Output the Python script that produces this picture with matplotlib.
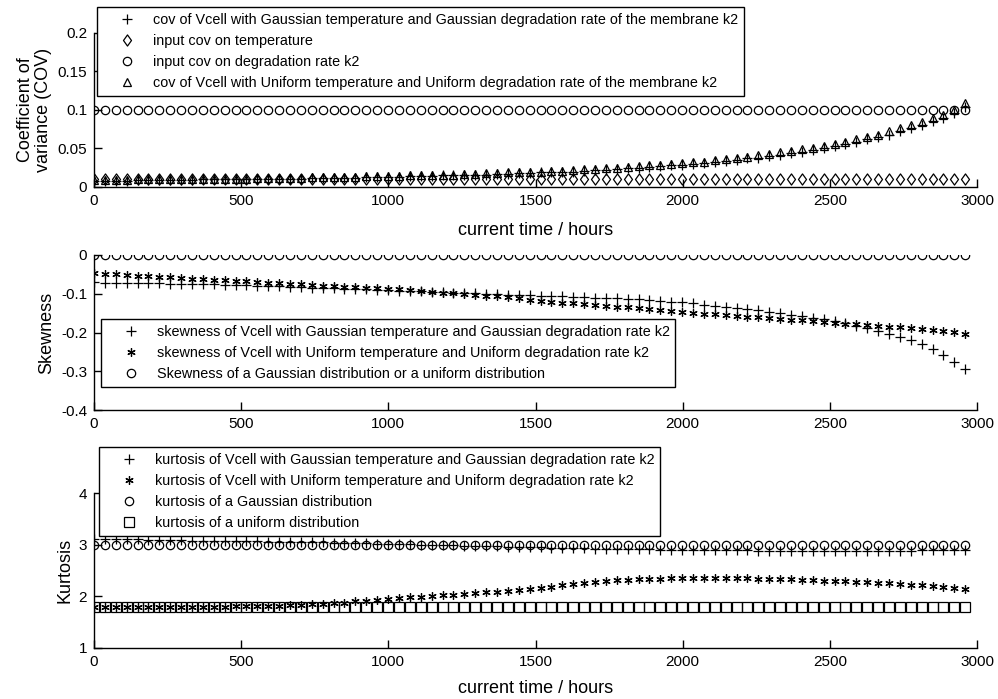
import numpy as np
import matplotlib
matplotlib.use("Agg")
import matplotlib.pyplot as plt
from matplotlib.path import Path

plt.rcParams['font.family'] = ['Liberation Sans', 'DejaVu Sans']
plt.rcParams['axes.unicode_minus'] = False

# time axis: one sample every 37 hours
hours = np.arange(81) * 37

# --- coefficient of variance ---
cov_gauss = [0.008, 0.008, 0.008, 0.008, 0.009, 0.009, 0.009, 0.009, 0.009, 0.009,
             0.010, 0.010, 0.010, 0.010, 0.010, 0.011, 0.011, 0.011, 0.011, 0.011,
             0.012, 0.012, 0.012, 0.012, 0.012, 0.013, 0.013, 0.013, 0.013, 0.014,
             0.014, 0.014, 0.015, 0.015, 0.015, 0.016, 0.016, 0.017, 0.017, 0.018,
             0.018, 0.019, 0.019, 0.020, 0.020, 0.021, 0.022, 0.022, 0.023, 0.024,
             0.025, 0.026, 0.027, 0.028, 0.029, 0.030, 0.031, 0.032, 0.034, 0.035,
             0.037, 0.038, 0.040, 0.042, 0.044, 0.046, 0.048, 0.050, 0.053, 0.056,
             0.059, 0.062, 0.065, 0.068, 0.072, 0.076, 0.080, 0.085, 0.090, 0.096,
             0.104]
cov_unif = [0.009, 0.009, 0.009, 0.009, 0.010, 0.010, 0.010, 0.010, 0.010, 0.010,
            0.011, 0.011, 0.011, 0.011, 0.011, 0.012, 0.012, 0.012, 0.012, 0.012,
            0.013, 0.013, 0.013, 0.013, 0.013, 0.014, 0.014, 0.014, 0.014, 0.015,
            0.015, 0.016, 0.016, 0.016, 0.017, 0.017, 0.018, 0.018, 0.019, 0.019,
            0.020, 0.020, 0.021, 0.021, 0.022, 0.023, 0.023, 0.024, 0.025, 0.026,
            0.027, 0.028, 0.029, 0.030, 0.031, 0.032, 0.033, 0.035, 0.036, 0.038,
            0.039, 0.041, 0.043, 0.045, 0.047, 0.049, 0.051, 0.053, 0.056, 0.059,
            0.062, 0.065, 0.068, 0.072, 0.076, 0.080, 0.084, 0.089, 0.094, 0.100,
            0.109]
cov_temp_in = [0.01] * 81
cov_k2_in = [0.1] * 81

# --- skewness ---
skew_gauss = [-0.070, -0.071, -0.071, -0.072, -0.072, -0.073, -0.073, -0.074, -0.074, -0.075,
              -0.075, -0.076, -0.077, -0.077, -0.078, -0.079, -0.080, -0.081, -0.082, -0.083,
              -0.084, -0.085, -0.086, -0.087, -0.088, -0.089, -0.090, -0.091, -0.092, -0.093,
              -0.094, -0.095, -0.096, -0.097, -0.098, -0.099, -0.100, -0.101, -0.102, -0.103,
              -0.104, -0.105, -0.106, -0.107, -0.108, -0.109, -0.110, -0.111, -0.112, -0.113,
              -0.114, -0.116, -0.118, -0.120, -0.122, -0.125, -0.128, -0.131, -0.134, -0.137,
              -0.140, -0.143, -0.146, -0.150, -0.154, -0.158, -0.162, -0.166, -0.171, -0.176,
              -0.182, -0.188, -0.195, -0.203, -0.211, -0.220, -0.230, -0.243, -0.258, -0.275,
              -0.294]
skew_unif = [-0.047, -0.049, -0.050, -0.052, -0.053, -0.055, -0.056, -0.058, -0.059, -0.061,
             -0.062, -0.064, -0.065, -0.067, -0.068, -0.070, -0.071, -0.073, -0.074, -0.076,
             -0.077, -0.079, -0.080, -0.082, -0.083, -0.085, -0.086, -0.088, -0.089, -0.091,
             -0.093, -0.095, -0.097, -0.099, -0.101, -0.103, -0.105, -0.107, -0.109, -0.111,
             -0.117, -0.119, -0.121, -0.123, -0.125, -0.127, -0.129, -0.131, -0.133, -0.135,
             -0.137, -0.139, -0.141, -0.144, -0.147, -0.149, -0.151, -0.153, -0.155, -0.157,
             -0.159, -0.161, -0.163, -0.165, -0.167, -0.169, -0.171, -0.173, -0.175, -0.177,
             -0.179, -0.181, -0.183, -0.185, -0.187, -0.189, -0.191, -0.193, -0.195, -0.198,
             -0.203]
skew_ref = [0.0] * 81

# --- kurtosis ---
kurt_gauss = [3.10, 3.10, 3.10, 3.10, 3.10, 3.09, 3.09, 3.09, 3.09, 3.08,
              3.08, 3.08, 3.08, 3.07, 3.07, 3.07, 3.06, 3.06, 3.06, 3.05,
              3.05, 3.05, 3.04, 3.04, 3.03, 3.03, 3.02, 3.02, 3.01, 3.01,
              3.00, 3.00, 2.99, 2.99, 2.98, 2.98, 2.97, 2.97, 2.96, 2.96,
              2.95, 2.95, 2.94, 2.94, 2.93, 2.93, 2.92, 2.92, 2.92, 2.91,
              2.91, 2.91, 2.90, 2.90, 2.90, 2.90, 2.89, 2.89, 2.89, 2.89,
              2.89, 2.88, 2.88, 2.88, 2.88, 2.88, 2.88, 2.88, 2.88, 2.88,
              2.88, 2.88, 2.88, 2.88, 2.88, 2.88, 2.89, 2.89, 2.89, 2.89,
              2.90]
kurt_unif = [1.80, 1.80, 1.80, 1.80, 1.80, 1.80, 1.80, 1.80, 1.80, 1.80,
             1.80, 1.80, 1.80, 1.81, 1.81, 1.81, 1.82, 1.82, 1.83, 1.84,
             1.85, 1.86, 1.87, 1.88, 1.90, 1.91, 1.93, 1.94, 1.96, 1.98,
             1.99, 2.00, 2.02, 2.03, 2.05, 2.06, 2.08, 2.09, 2.11, 2.13,
             2.15, 2.17, 2.19, 2.21, 2.23, 2.25, 2.27, 2.29, 2.31, 2.32,
             2.33, 2.34, 2.34, 2.35, 2.35, 2.35, 2.35, 2.35, 2.35, 2.35,
             2.35, 2.34, 2.34, 2.33, 2.33, 2.32, 2.31, 2.30, 2.30, 2.29,
             2.28, 2.27, 2.26, 2.25, 2.24, 2.22, 2.21, 2.20, 2.18, 2.17,
             2.15]
kurt_gauss_ref = [3.0] * 81
kurt_unif_ref = [1.8] * 81

xticks = [0, 500, 1000, 1500, 2000, 2500, 3000]

fig = plt.figure(figsize=(9.98, 6.99), dpi=100)
ax1 = fig.add_axes([0.0942, 0.7325, 0.8848, 0.2205])
ax2 = fig.add_axes([0.0942, 0.4134, 0.8848, 0.2218])
ax3 = fig.add_axes([0.0942, 0.0730, 0.8848, 0.2217])

mk = dict(linestyle='none', color='k', markerfacecolor='none', markeredgewidth=0.9)
asterisk = (6, 2, 0)
diamond = Path([(0, 1), (0.72, 0), (0, -1), (-0.72, 0), (0, 1)],
               [Path.MOVETO, Path.LINETO, Path.LINETO, Path.LINETO, Path.CLOSEPOLY])

ax1.plot(hours, cov_gauss, marker='+', markersize=6.5, label='cov of Vcell with Gaussian temperature and Gaussian degradation rate of the membrane k2', **mk)
ax1.plot(hours, cov_temp_in, marker=diamond, markersize=8, label='input cov on temperature', **mk)
ax1.plot(hours, cov_k2_in, marker='o', markersize=6, label='input cov on degradation rate k2', **mk)
ax1.plot(hours, cov_unif, marker='^', markersize=6, label='cov of Vcell with Uniform temperature and Uniform degradation rate of the membrane k2', **mk)

ax2.plot(hours, skew_gauss, marker='+', markersize=6.5, label='skewness of Vcell with Gaussian temperature and Gaussian degradation rate k2', **mk)
ax2.plot(hours, skew_unif, marker=asterisk, markersize=6, label='skewness of Vcell with Uniform temperature and Uniform degradation rate k2', **mk)
ax2.plot(hours, skew_ref, marker='o', markersize=6, label='Skewness of a Gaussian distribution or a uniform distribution', **mk)

ax3.plot(hours, kurt_gauss, marker='+', markersize=6.5, label='kurtosis of Vcell with Gaussian temperature and Gaussian degradation rate k2', **mk)
ax3.plot(hours, kurt_unif, marker=asterisk, markersize=6, label='kurtosis of Vcell with Uniform temperature and Uniform degradation rate k2', **mk)
ax3.plot(hours, kurt_gauss_ref, marker='o', markersize=6, label='kurtosis of a Gaussian distribution', **mk)
ax3.plot(hours, kurt_unif_ref, marker='s', markersize=6.5, label='kurtosis of a uniform distribution', **mk)

ax1.set_ylim(0, 0.2)
ax1.set_yticks([0, 0.05, 0.1, 0.15, 0.2])
ax1.set_yticklabels(['0', '0.05', '0.1', '0.15', '0.2'])
ax2.set_ylim(-0.4, 0)
ax2.set_yticks([-0.4, -0.3, -0.2, -0.1, 0])
ax2.set_yticklabels(['-0.4', '-0.3', '-0.2', '-0.1', '0'])
ax3.set_ylim(1, 4)
ax3.set_yticks([1, 2, 3, 4])

for ax in (ax1, ax2, ax3):
    ax.set_xlim(0, 3000)
    ax.set_xticks(xticks)
    ax.set_facecolor('none')
    ax.spines['top'].set_visible(False)
    ax.spines['right'].set_visible(False)
    ax.spines['left'].set_linewidth(1.0)
    ax.spines['bottom'].set_linewidth(1.0)
    ax.tick_params(direction='in', length=5.5, width=1.0, labelsize=11, pad=5)

ax1.set_xlabel('current time / hours', fontsize=13, labelpad=10)
ax3.set_xlabel('current time / hours', fontsize=13, labelpad=8)
ax1.set_ylabel('Coefficient of\nvariance (COV)', fontsize=13, linespacing=1.1)
ax2.set_ylabel('Skewness', fontsize=13)
ax3.set_ylabel('Kurtosis', fontsize=13)

leg_kw = dict(loc='upper left', numpoints=1, fontsize=10.4, frameon=True, fancybox=False,
              edgecolor='k', framealpha=1, borderpad=0.4, labelspacing=0.5,
              handlelength=3.3, handletextpad=0.15, borderaxespad=0)
l1 = ax1.legend(bbox_to_anchor=(97 / 998, 1 - 7 / 699), bbox_transform=fig.transFigure, **leg_kw)
l2 = ax2.legend(bbox_to_anchor=(101 / 998, 1 - 319 / 699), bbox_transform=fig.transFigure, **leg_kw)
l3 = ax3.legend(bbox_to_anchor=(99 / 998, 1 - 447 / 699), bbox_transform=fig.transFigure, **leg_kw)
for lg in (l1, l2, l3):
    lg.get_frame().set_linewidth(1.0)

fig.savefig('out.png', dpi=100)
